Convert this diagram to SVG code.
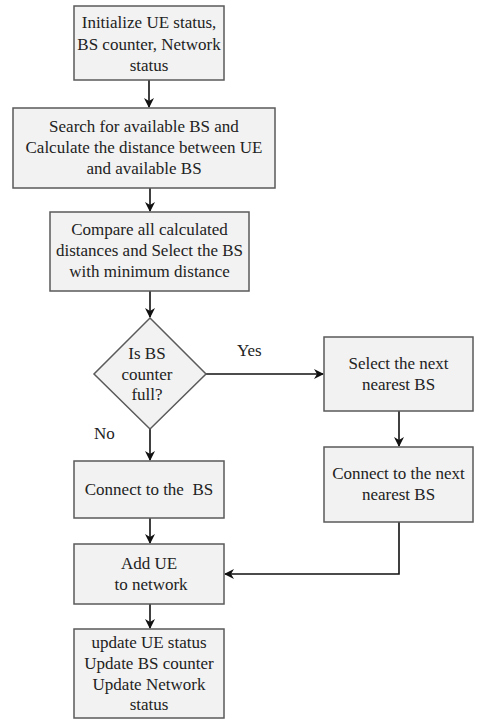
<svg xmlns="http://www.w3.org/2000/svg" width="486" height="722" viewBox="0 0 486 722">
<style>
.box{fill:#f2f2f2;stroke:#5a5a5a;stroke-width:1.5}
text{font-family:'Liberation Serif','DejaVu Serif',serif;font-size:17px;fill:#222}
.t{text-anchor:middle}
.c{fill:none;stroke:#111;stroke-width:1.6}
</style>
<defs>
<marker id="ah" viewBox="0 0 10 10" refX="9" refY="5" markerWidth="10" markerHeight="10" markerUnits="userSpaceOnUse" orient="auto">
<path d="M0,0 L10,5 L0,10 L3,5 Z" fill="#111"/>
</marker>
</defs>
<rect width="486" height="722" fill="#fff"/>
<g id="connectors">
<line class="c" x1="149" y1="80" x2="149" y2="107" marker-end="url(#ah)"/>
<line class="c" x1="150" y1="188" x2="150" y2="211" marker-end="url(#ah)"/>
<line class="c" x1="150" y1="291" x2="150" y2="317" marker-end="url(#ah)"/>
<line class="c" x1="206" y1="374" x2="323" y2="374" marker-end="url(#ah)"/>
<line class="c" x1="399" y1="411" x2="399" y2="446" marker-end="url(#ah)"/>
<line class="c" x1="150" y1="429" x2="150" y2="460" marker-end="url(#ah)"/>
<line class="c" x1="150" y1="518" x2="150" y2="543" marker-end="url(#ah)"/>
<polyline class="c" points="399,522 399,574 225,574" marker-end="url(#ah)"/>
<line class="c" x1="150" y1="604" x2="150" y2="628" marker-end="url(#ah)"/>
</g>
<g id="init">
<rect class="box" x="74" y="6" width="150" height="74"/>
<text class="t" x="149" y="28" font-family="Liberation Serif">Initialize UE status,</text>
<text class="t" x="149" y="49.5" font-family="Liberation Serif">BS counter, Network</text>
<text class="t" x="149" y="71" font-family="Liberation Serif">status</text>
</g>
<g id="search">
<rect class="box" x="13" y="108" width="262" height="80"/>
<text class="t" x="144" y="132">Search for available BS and</text>
<text class="t" x="144" y="153">Calculate the distance between UE</text>
<text class="t" x="144" y="174">and available BS</text>
</g>
<g id="compare">
<rect class="box" x="50" y="212" width="199" height="79"/>
<text class="t" x="149.5" y="235">Compare all calculated</text>
<text class="t" x="149.5" y="256">distances and Select the BS</text>
<text class="t" x="149.5" y="277">with minimum distance</text>
</g>
<g id="decision">
<polygon class="box" points="150,318 206,374 150,429 94,374"/>
<text class="t" x="147" y="359">Is BS</text>
<text class="t" x="147" y="380">counter</text>
<text class="t" x="147" y="400">full?</text>
</g>
<g id="labels">
<text x="237" y="356">Yes</text>
<text x="94" y="439">No</text>
</g>
<g id="selectnext">
<rect class="box" x="324" y="337" width="149" height="74"/>
<text class="t" x="398.5" y="369">Select the next</text>
<text class="t" x="398.5" y="390">nearest BS</text>
</g>
<g id="connectnext">
<rect class="box" x="324" y="447" width="149" height="75"/>
<text class="t" x="398.5" y="479">Connect to the next</text>
<text class="t" x="398.5" y="500">nearest BS</text>
</g>
<g id="connect">
<rect class="box" x="74" y="461" width="150" height="57"/>
<text class="t" x="149" y="495" xml:space="preserve">Connect to the  BS</text>
</g>
<g id="addue">
<rect class="box" x="74" y="544" width="150" height="60"/>
<text class="t" x="149" y="569">Add UE</text>
<text class="t" x="151" y="590">to network</text>
</g>
<g id="update">
<rect class="box" x="74" y="629" width="150" height="89"/>
<text class="t" x="149" y="648">update UE status</text>
<text class="t" x="149" y="669">Update BS counter</text>
<text class="t" x="149" y="690">Update Network</text>
<text class="t" x="149" y="710">status</text>
</g>
</svg>
